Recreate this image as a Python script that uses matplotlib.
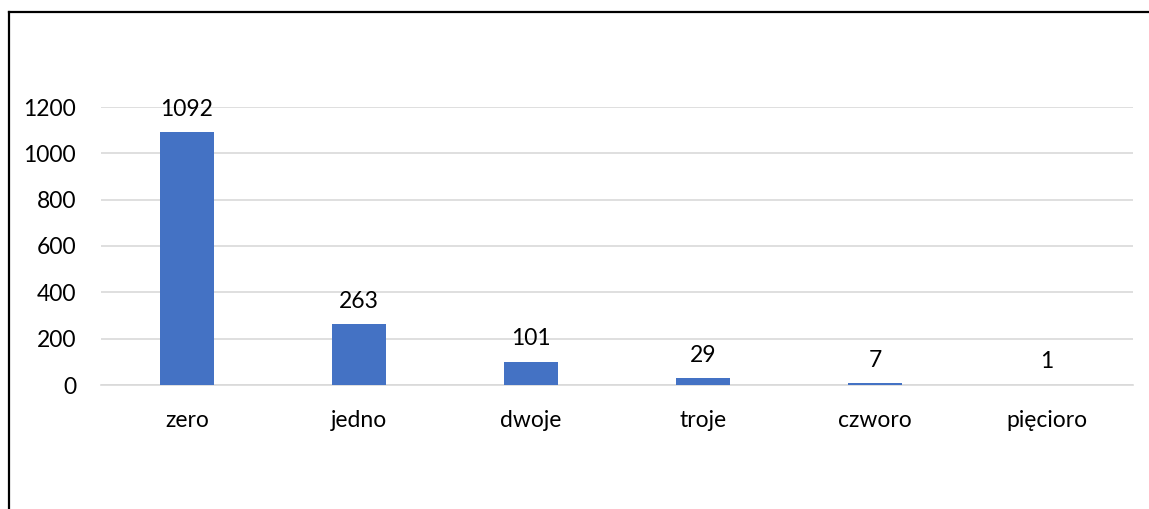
import matplotlib.pyplot as plt
from matplotlib.lines import Line2D

categories = ["zero", "jedno", "dwoje", "troje", "czworo", "pięcioro"]
values = [1092, 263, 101, 29, 7, 1]
yticks = [0, 200, 400, 600, 800, 1000, 1200]

plt.rcParams['font.family'] = ['Lato', 'DejaVu Sans']

fig = plt.figure(figsize=(11.49, 5.09), dpi=100)
ax = fig.add_axes([101 / 1149, 1 - 385 / 509, (1133 - 101) / 1149, (385 - 107) / 509])

x = range(len(categories))
ax.bar(x, values, width=0.314, color="#4472C4", zorder=3)
ax.set_xlim(-0.5, len(categories) - 0.5)
ax.set_ylim(0, 1200)
ax.set_yticks(yticks)
ax.set_xticks(list(x))
ax.set_xticklabels(categories)

for i, v in enumerate(values):
    ax.annotate(str(v), (i, v), xytext=(0, 9), textcoords="offset points",
                ha="center", va="bottom", fontsize=16.5, color="#000000",
                annotation_clip=False)

ax.grid(axis="y", color="#d9d9d9", linewidth=1.2, zorder=0)
for s in ["top", "right", "left"]:
    ax.spines[s].set_visible(False)
ax.spines["bottom"].set_color("#d9d9d9")
ax.spines["bottom"].set_linewidth(1.2)
ax.tick_params(axis="both", length=0, labelsize=16.5, colors="#000000")
ax.tick_params(axis="y", pad=18)
ax.tick_params(axis="x", pad=18)

# ramka wykresu (widoczna tylko lewa i górna krawędź)
fig.add_artist(Line2D([9 / 1149, 9 / 1149], [0, 1 - 12 / 509], color="black", linewidth=1.6))
fig.add_artist(Line2D([9 / 1149, 1], [1 - 12 / 509, 1 - 12 / 509], color="black", linewidth=1.6))

fig.savefig("out.png", dpi=100)
